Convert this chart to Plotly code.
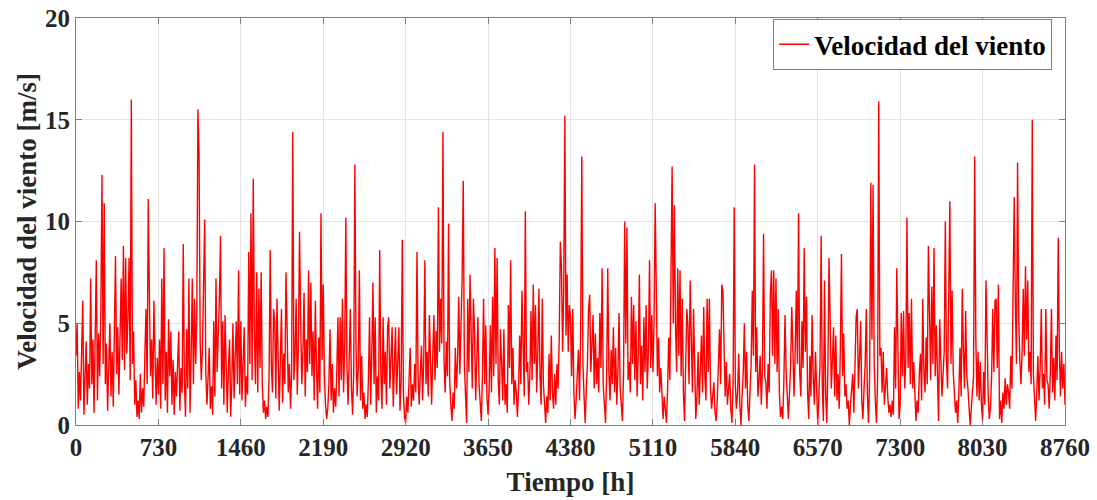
import numpy as np
import plotly.graph_objects as go

seg00 = [3.4,5.0,0.8,2.6,1.2,3.8,6.1,0.5,2.2,4.1,1.0,3.0,1.8,7.2,2.0,4.2,0.6,3.5,8.1,1.2,4.5,2.4,5.5,12.3,3.0,10.9,2.0,4.0,0.7,2.8,5.0,1.4,3.6,0.9,4.4,8.3,2.5,4.8,1.5,3.9,7.2,3.2,8.8,2.7,8.2,3.5,5.2,8.2,2.2,16.0,3.0,4.6,1.0,2.2,0.4,1.2,0.3,2.5,0.6,1.8,0.9,3.4,5.7,2.0,11.1,6.5,2.4,4.2,1.3,6.1,2.6,1.0,3.3]
seg01 = [1.5,4.2,0.8,7.2,2.0,8.7,1.2,3.6,0.6,5.2,2.4,4.6,1.0,3.2,0.5,2.6,1.4,3.0,4.6,0.7,2.8,1.6,8.9,2.2,0.4,4.7,1.8,7.2,0.6,3.4,7.2,2.0,6.2,3.0,5.4,15.5,13.3,4.0,2.2,3.8,6.6,10.1,2.5,1.0,2.4,3.8,0.8,1.9,0.5,5.1,1.4,7.2,2.6,4.0,6.2,9.3,1.8,5.1,1.0,5.4,2.2,0.6,2.8,4.2,0.4,2.0,5.0,1.3,3.4,5.1,2.0,7.6,1.5]
seg02 = [5.1,1.2,2.6,4.8,0.9,2.4,1.5,8.5,3.0,10.4,2.2,12.1,4.5,2.0,7.5,1.6,6.7,2.8,7.5,2.0,0.6,1.2,0.3,0.9,0.4,2.4,8.6,3.0,1.6,5.7,5.1,1.3,6.2,2.4,0.7,3.2,5.7,1.1,3.5,2.0,7.5,4.7,1.6,3.0,0.8,2.6,14.4,2.2,3.4,6.2,1.5,4.0,9.5,5.1,2.0,3.6,6.5,1.4,4.2,2.6,7.6,3.0,7.0,2.4,4.6,1.2,6.1,2.8,0.8,4.3,1.6,10.4,3.2]
seg03 = [6.9,2.4,1.0,0.3,0.8,2.0,4.7,1.2,3.0,0.6,1.8,0.9,2.6,5.3,1.4,5.3,2.2,6.2,1.6,3.8,10.2,2.8,1.0,3.4,5.7,1.8,0.5,2.6,12.8,4.0,1.4,2.8,7.6,1.2,3.4,0.8,1.6,0.3,1.0,0.4,2.2,5.3,1.0,3.5,7.0,2.0,5.3,0.6,2.4,1.2,8.6,2.6,0.8,5.3,2.0,3.6,1.0,4.8,5.3,1.8,3.0,4.8,0.9,2.4,4.8,1.5,3.2,4.8,0.7,2.2,9.1,1.6,0.4]
seg04 = [0.1,1.4,0.6,2.2,3.8,0.9,2.0,1.2,3.0,1.6,8.5,2.4,1.0,2.6,3.9,1.2,3.2,8.1,2.0,3.6,1.4,5.4,2.6,1.0,3.4,5.4,2.2,4.6,2.8,10.7,3.6,6.2,4.0,14.4,3.2,1.6,4.1,2.4,9.9,2.2,1.0,0.2,1.6,0.8,3.8,1.8,3.2,6.3,2.5,4.4,7.2,12.0,3.0,1.5,0.1,6.2,2.6,7.4,3.4,1.8,6.2,4.6,1.2,2.8,5.3,2.0,1.0,0.2,2.4,6.2,2.0,4.9,1.4]
seg05 = [0.5,1.8,4.9,1.6,6.3,2.4,8.7,3.0,8.2,2.2,1.0,4.7,2.6,1.2,4.7,1.0,2.0,0.6,5.9,2.8,8.1,2.0,3.8,1.0,2.2,1.6,0.4,1.8,4.4,2.0,6.6,3.0,1.4,10.5,2.6,3.1,1.0,2.4,5.6,2.2,6.9,3.0,5.9,1.6,3.4,6.7,2.4,1.0,6.2,2.0,1.2,0.1,1.4,0.6,3.5,1.2,4.4,1.6,0.8,2.5,1.0,3.0,1.8,4.2,9.0,7.7,3.6,6.7,15.2,4.4,7.4,3.6,5.9]
seg06 = [5.3,2.4,5.7,1.6,0.3,1.2,2.4,3.7,1.2,4.6,13.2,3.0,1.4,0.1,1.8,3.0,5.7,6.4,2.6,4.0,5.4,1.8,4.5,2.0,3.3,1.6,5.5,2.8,7.7,2.0,1.0,0.1,2.4,7.7,2.6,1.2,3.7,2.0,4.8,1.6,3.8,1.0,2.6,5.5,1.8,0.8,0.2,2.6,10.0,4.0,9.7,2.2,3.1,1.6,6.3,3.0,5.9,2.2,5.1,1.4,3.4,7.4,2.0,3.9,1.2,5.3,2.6,5.9,1.8,3.6,8.1,2.8,5.4]
seg07 = [2.6,5.0,10.9,7.2,2.4,4.3,1.6,2.8,1.0,0.3,1.4,0.6,0.1,1.8,4.3,2.2,9.5,12.7,5.0,10.8,4.9,2.6,7.7,3.4,7.6,2.4,6.2,1.6,0.2,2.4,5.7,4.9,2.0,7.1,3.0,1.6,5.7,1.8,0.3,1.4,3.6,1.0,2.4,4.4,1.6,5.8,2.4,1.2,6.2,2.6,6.2,1.8,0.8,1.6,2.1,0.6,0.2,1.2,2.6,4.7,2.0,6.9,6.6,2.8,1.4,3.1,1.0,1.8,2.5,0.8,0.1,2.0,10.7]
seg08 = [2.0,0.8,1.6,3.5,1.0,0.0,1.4,2.6,5.0,1.8,3.6,1.0,0.2,1.8,3.0,6.6,3.4,12.8,2.6,4.8,1.4,2.2,3.4,1.0,2.8,9.4,2.4,2.1,0.8,3.0,1.6,6.4,7.6,3.4,7.6,3.0,7.2,2.6,5.7,1.6,0.4,0.9,0.3,2.2,5.4,2.6,1.2,0.3,1.6,3.0,5.8,3.3,1.4,3.6,6.6,3.0,10.4,2.6,1.4,5.1,2.8,8.7,3.6,6.3,1.6,0.3,3.4,1.4,5.4,2.4,1.0,3.6,1.2]
seg09 = [0.0,1.4,3.0,9.3,2.0,0.2,7.1,1.6,0.1,2.8,8.2,5.1,1.8,3.2,4.8,1.4,4.4,1.2,2.5,0.8,3.6,8.4,2.4,4.5,1.4,2.0,0.8,1.2,0.0,1.0,2.1,2.5,0.6,2.4,5.3,5.7,1.8,3.2,5.1,1.2,0.3,1.8,3.0,5.7,1.4,0.1,2.6,11.9,4.2,11.8,3.0,1.2,0.1,2.2,15.9,3.4,3.8,1.6,3.6,1.0,2.2,2.8,1.4,0.6,1.0,0.4,1.2,0.5,4.8,1.8,7.7,2.4,0.3]
seg10 = [1.0,5.5,2.4,5.6,1.8,3.2,10.2,2.8,5.5,2.0,6.2,1.8,3.1,1.0,0.2,1.2,0.6,2.6,3.5,1.2,6.2,2.6,1.6,4.3,2.0,8.8,4.8,2.2,6.8,3.0,8.7,2.4,4.9,1.6,0.2,5.2,2.8,1.4,2.5,3.6,10.0,3.2,1.8,6.6,11.0,3.0,6.6,2.6,1.6,0.6,1.2,0.1,1.6,3.8,1.4,6.7,3.6,1.8,5.6,2.4,1.8,0.6,0.0,0.8,1.6,2.4,13.2,4.3,1.4,3.6,1.2,3.1,1.0]
seg11 = [0.2,2.6,1.0,7.1,3.3,1.4,0.3,0.9,2.4,5.7,2.6,6.1,6.2,2.8,6.9,0.3,1.2,0.1,1.6,0.8,2.3,1.0,2.0,1.6,0.8,3.4,1.8,5.7,11.2,6.1,3.0,12.9,5.3,3.2,2.0,3.6,6.7,3.4,7.8,4.2,7.1,2.6,3.6,2.0,15.0,2.5,1.0,0.2,1.6,3.4,1.2,2.8,5.7,1.8,2.5,1.0,5.7,2.2,2.0,0.8,2.6,5.7,1.6,3.3,1.2,4.4,2.2,9.2,3.6,1.4,3.6,1.8,3.0,1.0]

x_ticks = [0, 730, 1460, 2190, 2920, 3650, 4380, 5110, 5840, 6570, 7300, 8030, 8760]
y_ticks = [0, 5, 10, 15, 20]
step_h = 10

speed = np.concatenate([seg00, seg01, seg02, seg03, seg04, seg05, seg06,
                        seg07, seg08, seg09, seg10, seg11])
hours = np.arange(len(speed)) * step_h

font_family = "Liberation Serif, Times New Roman, serif"

fig = go.Figure()
fig.add_trace(go.Scatter(
    x=hours, y=speed, mode="lines", name="Velocidad del viento",
    line=dict(color="#ff0000", width=1.4)
))

axis_common = dict(
    showline=True, linecolor="#7f7f7f", linewidth=1, mirror="ticks",
    ticks="inside", ticklen=6, tickcolor="#7f7f7f",
    showgrid=True, gridcolor="#e3e3e3", gridwidth=1, zeroline=False,
    automargin=False,
    tickfont=dict(family=font_family, size=25, color="#262626", weight="bold"),
)

fig.update_layout(
    width=1097, height=500,
    margin=dict(l=76, r=32, t=18, b=75),
    paper_bgcolor="white", plot_bgcolor="white",
    font=dict(family=font_family, color="#262626"),
    showlegend=True,
    legend=dict(
        x=0.987, y=0.997, xanchor="right", yanchor="top",
        bgcolor="white", bordercolor="#7f7f7f", borderwidth=1,
        font=dict(family=font_family, size=27, color="#000000", weight="bold"),
        itemwidth=30, tracegroupgap=0,
    ),
)
fig.update_xaxes(
    range=[0, 8760], tickvals=x_ticks, ticktext=[str(v) for v in x_ticks],
    title=dict(text="Tiempo [h]", standoff=12,
               font=dict(family=font_family, size=27, color="#262626", weight="bold")),
    **axis_common,
)
fig.update_yaxes(
    range=[0, 20], tickvals=y_ticks, ticktext=[str(v) for v in y_ticks],
    title=dict(text="Velocidad del viento [m/s]", standoff=0,
               font=dict(family=font_family, size=27, color="#262626", weight="bold")),
    **axis_common,
)

fig.write_html("out.html")
